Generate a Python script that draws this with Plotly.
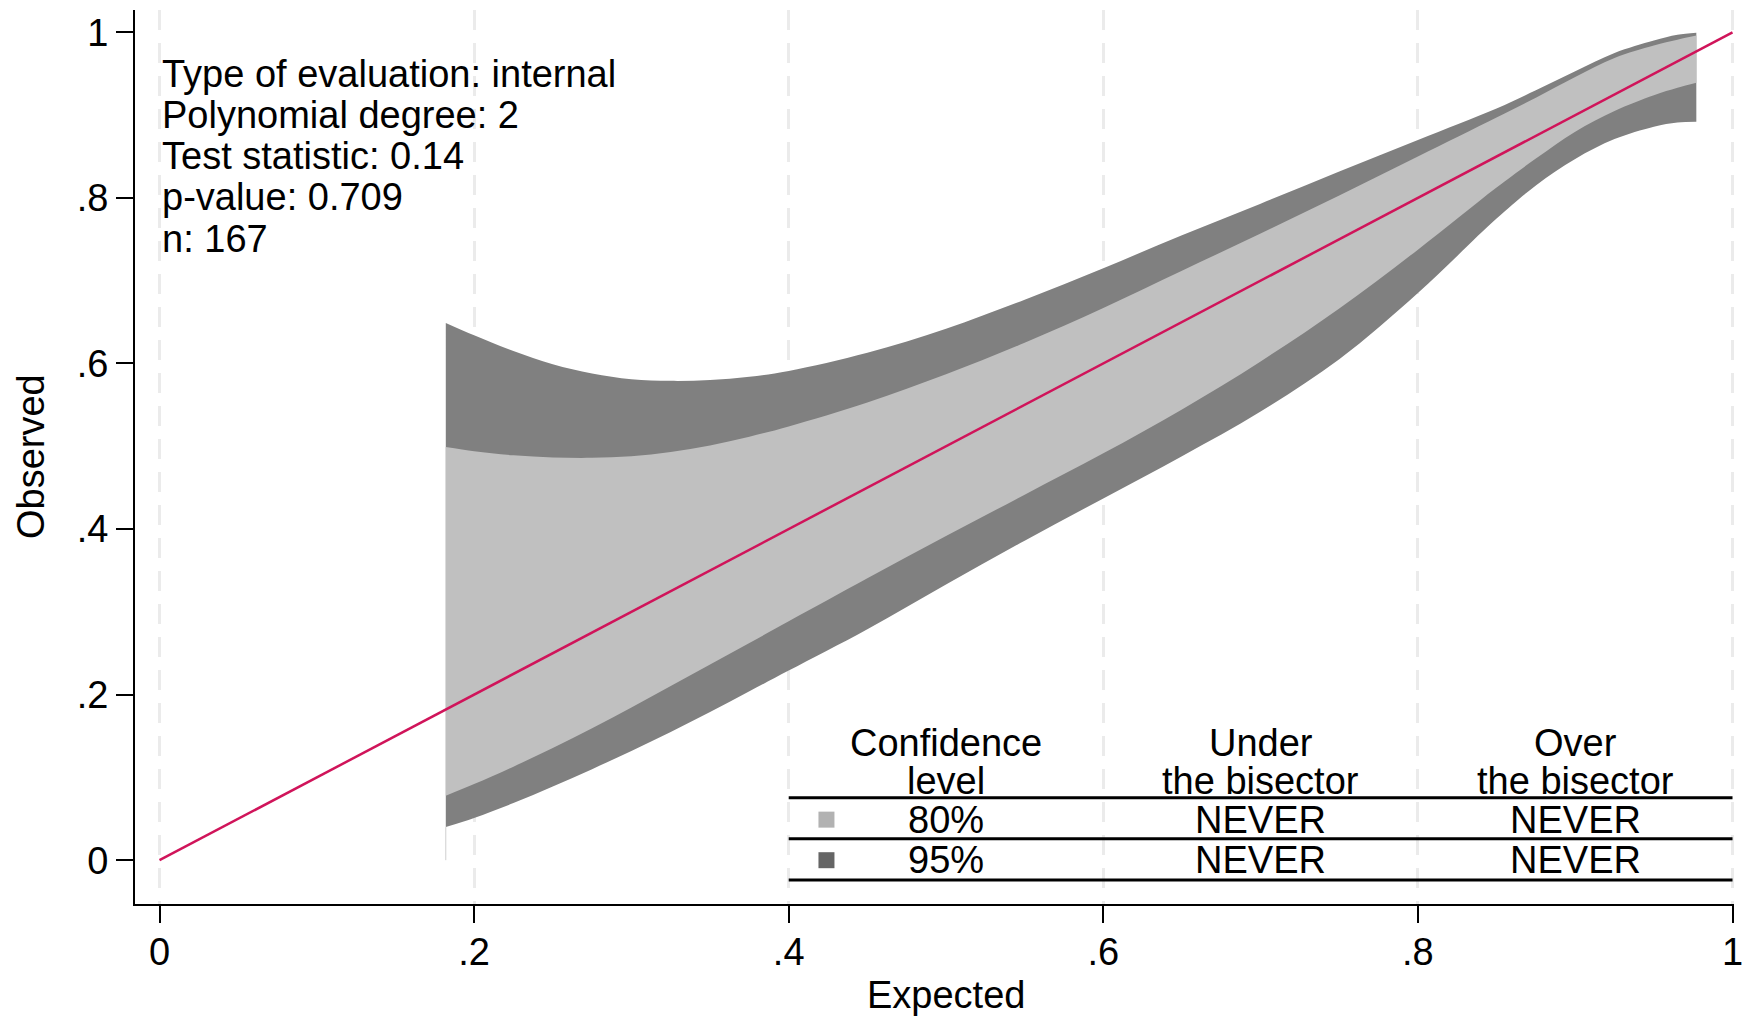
import plotly.graph_objects as go

# ---------------- data ----------------
expected = [0.182, 0.20, 0.225, 0.25, 0.275, 0.30, 0.325, 0.35, 0.375, 0.40,
            0.45, 0.50, 0.55, 0.60, 0.65, 0.70, 0.75, 0.80, 0.85, 0.875,
            0.90, 0.925, 0.95, 0.965, 0.977]
upper95 = [0.649, 0.634, 0.615, 0.599, 0.588, 0.581, 0.579, 0.580, 0.584, 0.591,
           0.613, 0.642, 0.677, 0.715, 0.755, 0.793, 0.832, 0.870, 0.908, 0.930,
           0.953, 0.975, 0.990, 0.997, 0.9996]
upper80 = [0.499, 0.494, 0.489, 0.4865, 0.486, 0.488, 0.493, 0.501, 0.5115, 0.524,
           0.553, 0.587, 0.625, 0.667, 0.712, 0.757, 0.803, 0.850, 0.897, 0.921,
           0.946, 0.969, 0.984, 0.991, 0.996]
lower80 = [0.078, 0.092, 0.113, 0.1355, 0.1595, 0.1845, 0.2105, 0.2365, 0.2625, 0.2885,
           0.3405, 0.3915, 0.4415, 0.4915, 0.5445, 0.6025, 0.6665, 0.7375, 0.8125, 0.8475,
           0.880, 0.905, 0.924, 0.933, 0.939]
lower95 = [0.040, 0.051, 0.069, 0.089, 0.110, 0.132, 0.155, 0.179, 0.204, 0.229,
           0.279, 0.333, 0.386, 0.437, 0.488, 0.542, 0.605, 0.685, 0.775, 0.815,
           0.847, 0.871, 0.886, 0.891, 0.892]

bisector = [0, 1]

tick_vals = [0, 0.2, 0.4, 0.6, 0.8, 1]
tick_text = ["0", ".2", ".4", ".6", ".8", "1"]

info_lines = ["Type of evaluation: internal", "Polynomial degree: 2",
              "Test statistic: 0.14", "p-value: 0.709", "n: 167"]

header_top = ["Confidence", "Under", "Over"]
header_bottom = ["level", "the bisector", "the bisector"]
conf_levels = ["80%", "95%"]
under_bisector = ["NEVER", "NEVER"]
over_bisector = ["NEVER", "NEVER"]
legend_colors = ["#b2b2b2", "#656565"]

# ---------------- styles ----------------
FONT = "Liberation Sans, Arial, Helvetica, sans-serif"
FS = 38
DARK = "#808080"
LIGHT = "#c0c0c0"
RED = "#d0145a"

fig = go.Figure()

# 95% band
fig.add_trace(go.Scatter(x=expected, y=lower95, mode="lines",
                         line=dict(width=0, shape="spline", color=DARK),
                         hoverinfo="skip"))
fig.add_trace(go.Scatter(x=expected, y=upper95, mode="lines", fill="tonexty",
                         fillcolor=DARK, line=dict(width=0, shape="spline", color=DARK),
                         hoverinfo="skip"))
# 80% band
fig.add_trace(go.Scatter(x=expected, y=lower80, mode="lines",
                         line=dict(width=0, shape="spline", color=LIGHT),
                         hoverinfo="skip"))
fig.add_trace(go.Scatter(x=expected, y=upper80, mode="lines", fill="tonexty",
                         fillcolor=LIGHT, line=dict(width=0, shape="spline", color=LIGHT),
                         hoverinfo="skip"))
# faint edge down to zero at band start
fig.add_trace(go.Scatter(x=[expected[0], expected[0]], y=[0, lower95[0]], mode="lines",
                         line=dict(width=1, color="#cfcfcf"), hoverinfo="skip"))
# bisector
fig.add_trace(go.Scatter(x=bisector, y=bisector, mode="lines",
                         line=dict(width=2.5, color=RED), hoverinfo="skip"))

# ---------------- table ----------------
col_x = [0.5, 0.7, 0.9]
row_y = [0.049, 0.0]
head_y = [0.1413, 0.0957]
line_y = [0.0755, 0.0258, -0.024]
square_x = 0.424

fig.add_trace(go.Scatter(x=[square_x] * len(conf_levels), y=row_y, mode="markers",
                         marker=dict(symbol="square", size=16, color=legend_colors,
                                     line=dict(width=0)),
                         hoverinfo="skip"))

annotations = []
for i, t in enumerate(info_lines):
    annotations.append(dict(x=0, y=0.950 - 0.0498 * i, xref="x", yref="y", text=t,
                            showarrow=False, xanchor="left", yanchor="middle",
                            font=dict(family=FONT, size=FS, color="black")))
for cx, top, bot in zip(col_x, header_top, header_bottom):
    annotations.append(dict(x=cx, y=head_y[0], xref="x", yref="y", text=top, showarrow=False,
                            xanchor="center", yanchor="middle",
                            font=dict(family=FONT, size=FS, color="black")))
    annotations.append(dict(x=cx, y=head_y[1], xref="x", yref="y", text=bot, showarrow=False,
                            xanchor="center", yanchor="middle",
                            font=dict(family=FONT, size=FS, color="black")))
for r, (c, u, o) in enumerate(zip(conf_levels, under_bisector, over_bisector)):
    for cx, t in zip(col_x, [c, u, o]):
        annotations.append(dict(x=cx, y=row_y[r], xref="x", yref="y", text=t, showarrow=False,
                                xanchor="center", yanchor="middle",
                                font=dict(family=FONT, size=FS, color="black")))

# axis titles
annotations.append(dict(x=0.5, y=-0.1018, xref="x", yref="paper", text="Expected",
                        showarrow=False, xanchor="center", yanchor="middle",
                        font=dict(family=FONT, size=FS, color="black")))
annotations.append(dict(x=-0.065, y=0.5, xref="paper", yref="paper", text="Observed",
                        showarrow=False, xanchor="center", yanchor="middle", textangle=-90,
                        font=dict(family=FONT, size=FS, color="black")))

shapes = []
for ly in line_y:
    shapes.append(dict(type="line", xref="x", yref="y", x0=0.4, x1=1.0, y0=ly, y1=ly,
                       line=dict(color="black", width=3)))

fig.update_layout(
    width=1747, height=1022,
    margin=dict(l=135, r=13, t=10, b=118, autoexpand=False),
    paper_bgcolor="white", plot_bgcolor="white",
    showlegend=False,
    annotations=annotations,
    shapes=shapes,
    xaxis=dict(range=[-0.01558, 1.00095], tickvals=tick_vals, ticktext=tick_text,
               automargin=False,
               showgrid=True, gridcolor="#ebebeb", gridwidth=3, griddash="20px,13px",
               zeroline=False, showline=True, linecolor="black", linewidth=2,
               ticks="outside", ticklen=17, tickwidth=2, tickcolor="black",
               ticklabelstandoff=-4, ticklabeloverflow="allow",
               tickfont=dict(family=FONT, size=FS, color="black")),
    yaxis=dict(range=[-0.0529, 1.02694], tickvals=tick_vals, ticktext=tick_text,
               automargin=False,
               showgrid=False, zeroline=False, showline=True, linecolor="black", linewidth=2,
               ticks="outside", ticklen=17, tickwidth=2, tickcolor="black",
               tickfont=dict(family=FONT, size=FS, color="black")),
)

fig.write_html("out.html",
               config={"displayModeBar": False},
               post_script="document.body.style.margin='0';"
                           "document.documentElement.style.overflow='hidden';")
